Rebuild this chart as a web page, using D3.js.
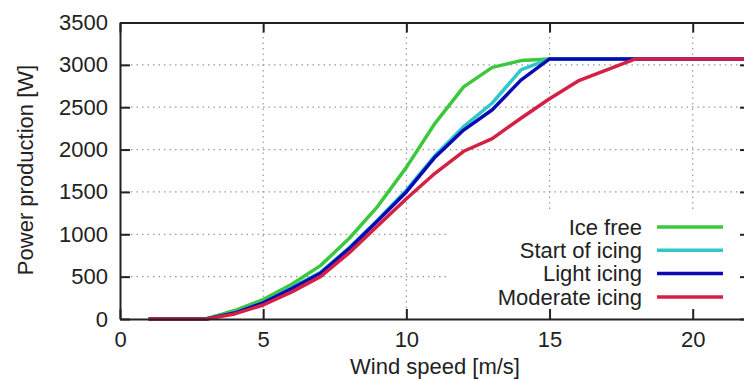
<!DOCTYPE html>
<html>
<head>
<meta charset="utf-8">
<script src="https://cdn.jsdelivr.net/npm/d3@7"></script>
<style>
  body { margin: 0; background: #fff; }
  text { font-family: "Liberation Sans", Arial, sans-serif; fill: #222; }
</style>
</head>
<body>
<svg id="chart" width="744" height="380"></svg>
<script>
const windSpeed = d3.range(1, 23)
const iceFree   = [0, 0, 0, 100, 230, 410, 630, 950, 1330, 1790, 2310, 2740, 2970, 3050, 3070, 3070, 3070, 3070, 3070, 3070, 3070, 3070]
const startIcing = [0, 0, 0, 75, 195, 370, 550, 840, 1170, 1520, 1930, 2270, 2550, 2940, 3070, 3070, 3070, 3070, 3070, 3070, 3070, 3070]
const lightIcing = [0, 0, 0, 70, 190, 360, 540, 830, 1160, 1500, 1910, 2230, 2470, 2820, 3070, 3070, 3070, 3070, 3070, 3070, 3070, 3070]
const moderateIcing = [0, 0, 0, 60, 165, 320, 500, 780, 1100, 1420, 1720, 1980, 2130, 2370, 2600, 2810, 2940, 3070, 3070, 3070, 3070, 3070]

const seriesNames = ['Ice free', 'Start of icing', 'Light icing', 'Moderate icing']
const seriesValues = [iceFree, startIcing, lightIcing, moderateIcing]
const colors = ['#3cc83c', '#2ec8c8', '#0a0ab4', '#d42045']

const xTicks = [0, 5, 10, 15, 20]
const yTicks = [0, 500, 1000, 1500, 2000, 2500, 3000, 3500]

const mLeft = 120, mRight = 750, mTop = 22.5, mBottom = 319

const x = d3.scaleLinear([0, 22], [mLeft, mRight])
const y = d3.scaleLinear([0, 3500], [mBottom, mTop])

const svg = d3.select('#chart')

// legend box (erases grid underneath)
const legendBox = {x0: 447, y0: 213, y1: 309}

// grid
const grid = svg.append('g')
    .attr('stroke', '#999')
    .attr('stroke-width', 1.2)
    .attr('stroke-dasharray', '1.5,4')

grid.selectAll('.gx')
    .data(xTicks.slice(1))
    .join('line')
    .attr('x1', d => x(d)).attr('x2', d => x(d))
    .attr('y1', mBottom).attr('y2', mTop)

grid.selectAll('.gy')
    .data(yTicks.slice(1, -1))
    .join('line')
    .attr('x1', mLeft).attr('x2', mRight)
    .attr('y1', d => y(d)).attr('y2', d => y(d))

svg.append('rect')
    .attr('x', legendBox.x0)
    .attr('y', legendBox.y0)
    .attr('width', 744 - legendBox.x0)
    .attr('height', legendBox.y1 - legendBox.y0)
    .attr('fill', '#fff')

// curves
const line = d3.line()
    .x((d, i) => x(windSpeed[i]))
    .y(d => y(d))

svg.append('g')
    .selectAll('path')
    .data(seriesValues)
    .join('path')
    .attr('d', d => line(d))
    .attr('fill', 'none')
    .attr('stroke', (d, i) => colors[i])
    .attr('stroke-width', 3.5)
    .attr('stroke-linejoin', 'round')

// axes (ticks inward on all sides)
const fmt = d3.format('d')
const axisX = d3.axisBottom(x).tickValues(xTicks).tickSize(-10).tickSizeOuter(0).tickPadding(12).tickFormat(fmt)
const axisY = d3.axisLeft(y).tickValues(yTicks).tickSize(-10).tickSizeOuter(0).tickPadding(12).tickFormat(fmt)
const axisTop = d3.axisTop(x).tickValues(xTicks).tickSize(-10).tickSizeOuter(0).tickFormat('')
const axisRight = d3.axisRight(y).tickValues(yTicks).tickSize(-10).tickSizeOuter(0).tickFormat('')

function styleAxis(g) {
    g.select('.domain').attr('stroke', '#222').attr('stroke-width', 2)
    g.selectAll('.tick line').attr('stroke', '#222').attr('stroke-width', 2)
    g.selectAll('.tick text')
        .attr('font-size', '22px')
        .attr('font-family', '"Liberation Sans", Arial, sans-serif')
        .attr('fill', '#222')
}

svg.append('g').attr('transform', `translate(0,${mBottom})`).call(axisX).call(styleAxis)
svg.append('g').attr('transform', `translate(${mLeft},0)`).call(axisY).call(styleAxis)
svg.append('g').attr('transform', `translate(0,${mTop})`).call(axisTop).call(styleAxis)
svg.append('g').attr('transform', `translate(${mRight},0)`).call(axisRight).call(styleAxis)

// legend
const legend = svg.append('g')
const legendRows = legend.selectAll('g')
    .data(seriesNames)
    .join('g')
    .attr('transform', (d, i) => `translate(0, ${227 + i * 23.3})`)

legendRows.append('text')
    .attr('x', 642)
    .attr('dy', '0.35em')
    .attr('text-anchor', 'end')
    .attr('font-size', '22px')
    .text(d => d)

legendRows.append('line')
    .attr('x1', 657).attr('x2', 723)
    .attr('stroke', (d, i) => colors[i])
    .attr('stroke-width', 3.5)

// axis titles
svg.append('text')
    .text('Wind speed [m/s]')
    .attr('x', 435)
    .attr('y', 374)
    .attr('text-anchor', 'middle')
    .attr('font-size', '22px')

svg.append('text')
    .text('Power production [W]')
    .attr('text-anchor', 'middle')
    .attr('font-size', '22px')
    .attr('transform', 'translate(33, 170) rotate(-90)')
</script>
</body>
</html>
